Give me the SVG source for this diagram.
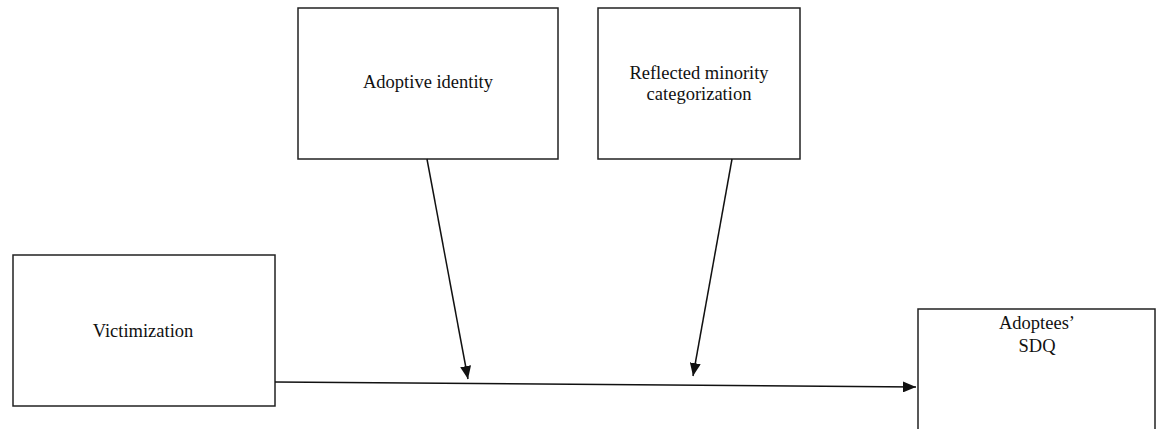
<svg xmlns="http://www.w3.org/2000/svg" width="1166" height="429" viewBox="0 0 1166 429">
<style>
.box{fill:#fff;stroke:#222;stroke-width:1.5}
.lbl{font-family:"Liberation Serif","Times New Roman",serif;font-size:18.5px;fill:#111;text-anchor:middle}
.edge{stroke:#111;stroke-width:1.5;fill:none}
</style>
<defs>
<marker id="ah" viewBox="0 0 13 11" refX="13" refY="5.5" markerWidth="13" markerHeight="11" markerUnits="userSpaceOnUse" orient="auto">
<path d="M0,0 L13,5.5 L0,11 Z" fill="#111"/>
</marker>
</defs>
<rect width="1166" height="429" fill="#fff"/>
<g id="node-adoptive">
<rect class="box" x="298" y="8" width="260" height="151"/>
<text class="lbl" x="428" y="88">Adoptive identity</text>
</g>
<g id="node-reflected">
<rect class="box" x="598" y="8" width="202" height="151"/>
<text class="lbl" x="699" y="79">Reflected minority</text>
<text class="lbl" x="699" y="100">categorization</text>
</g>
<g id="node-victimization">
<rect class="box" x="13" y="255" width="262" height="151"/>
<text class="lbl" x="143" y="337">Victimization</text>
</g>
<g id="node-sdq">
<rect class="box" x="918" y="309" width="237" height="140"/>
<text class="lbl" x="1037" y="329">Adoptees’</text>
<text class="lbl" x="1037" y="352">SDQ</text>
</g>
<g id="connectors">
<line class="edge" x1="275" y1="382" x2="916" y2="387" marker-end="url(#ah)"/>
<line class="edge" x1="427" y1="159" x2="468" y2="379" marker-end="url(#ah)"/>
<line class="edge" x1="732" y1="159" x2="693" y2="376" marker-end="url(#ah)"/>
</g>
</svg>
